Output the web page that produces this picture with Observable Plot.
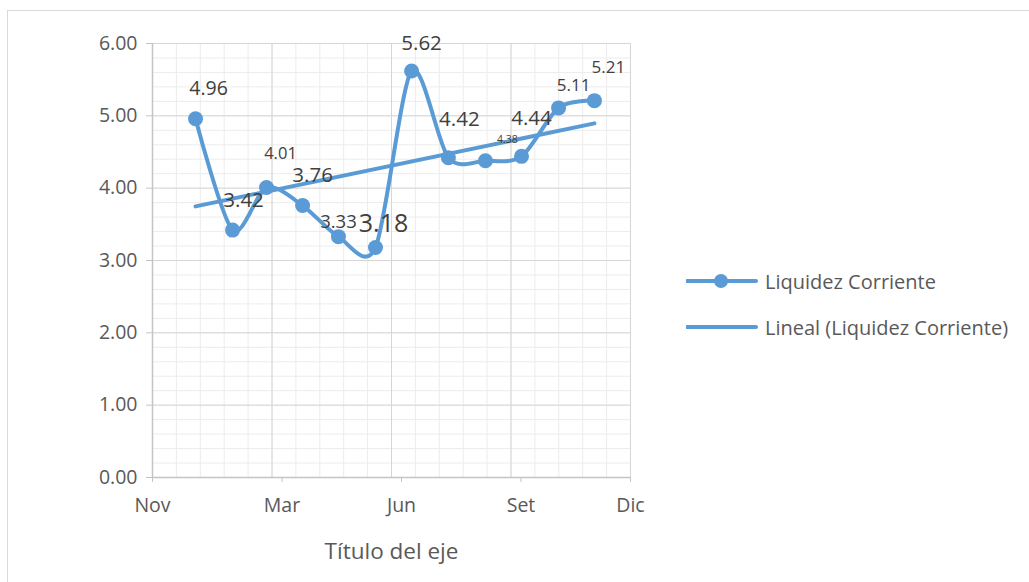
<!DOCTYPE html>
<html>
<head>
<meta charset="utf-8">
<script src="https://cdn.jsdelivr.net/npm/d3@7"></script>
<script src="https://cdn.jsdelivr.net/npm/@observablehq/plot@0.6"></script>
<style>
  html, body { margin: 0; padding: 0; background: #fff; }
  #wrap { position: relative; width: 1029px; height: 582px; overflow: hidden; font-family: "Open Sans", sans-serif; }
  #border { position: absolute; left: 7px; top: 10px; width: 1200px; height: 800px; border: 1.5px solid #d9d9d9; box-sizing: border-box; pointer-events: none; }
  #legend { position: absolute; left: 686px; top: 266px; color: #595959; font-size: 20px; }
  .row { display: flex; align-items: center; height: 30px; margin-bottom: 16px; }
  .row svg { margin-right: 7px; }
</style>
</head>
<body>
<div id="wrap">
  <div id="chart"></div>
  <div id="border"></div>
  <div id="legend"></div>
</div>
<script>
// ---- data ----
const seriesName = "Liquidez Corriente";
const trendName = "Lineal (Liquidez Corriente)";
const xPos = [1.8, 3.35, 4.77, 6.28, 7.78, 9.33, 10.84, 12.38, 13.93, 15.44, 16.99, 18.49];
const liquidez = [4.96, 3.42, 4.01, 3.76, 3.33, 3.18, 5.62, 4.42, 4.38, 4.44, 5.11, 5.21];
const xTickValues = [0, 5, 10, 15, 20];
const xTickLabels = ["Nov", "Mar", "Jun", "Set", "Dic"];
const yTickValues = [0, 1, 2, 3, 4, 5, 6];
const xAxisTitle = "Título del eje";

// ---- label styling (offsets in px, font sizes) ----
const labelStyle = [
  {dx: 13, dy: -24, size: 19.5},
  {dx: 11, dy: -23, size: 20.5},
  {dx: 14, dy: -28, size: 16.5},
  {dx: 10, dy: -24, size: 20.5},
  {dx: 0,  dy: -9,  size: 18.5},
  {dx: 8,  dy: -15, size: 25},
  {dx: 10, dy: -21, size: 20.5},
  {dx: 11, dy: -32, size: 20.5},
  {dx: 22, dy: -18, size: 10.5},
  {dx: 10, dy: -31, size: 20.5},
  {dx: 15, dy: -17, size: 17},
  {dx: 14, dy: -28, size: 17}
];

const data = liquidez.map((v, i) => ({x: xPos[i], y: v}));
const blue = "#5B9BD5";
const labelFor = v => xTickLabels[xTickValues.indexOf(v)];

const labelMarks = data.map((d, i) => Plot.text([d], {
  x: "x", y: "y", text: d => d.y.toFixed(2),
  dx: labelStyle[i].dx, dy: labelStyle[i].dy, fontSize: labelStyle[i].size,
  lineAnchor: "bottom", textAnchor: "middle", fill: "#404040"
}));

const chart = Plot.plot({
  width: 1029, height: 582,
  marginLeft: 152, marginRight: 399, marginTop: 43, marginBottom: 105,
  x: {domain: [0, 20]},
  y: {domain: [0, 6]},
  style: {fontFamily: "'Open Sans', sans-serif", background: "transparent", color: "#595959"},
  marks: [
    Plot.gridX(d3.range(0, 21, 1), {stroke: "#ececec", strokeOpacity: 1}),
    Plot.gridY(d3.range(0, 31).map(i => i / 5), {stroke: "#ececec", strokeOpacity: 1}),
    Plot.gridX(xTickValues, {stroke: "#d6d6d6", strokeOpacity: 1}),
    Plot.gridY(yTickValues, {stroke: "#d6d6d6", strokeOpacity: 1}),
    Plot.ruleY([0], {stroke: "#c4c4c4", strokeWidth: 1.5}),
    Plot.ruleX([0], {stroke: "#c4c4c4", strokeWidth: 1.5}),
    Plot.axisY({ticks: yTickValues, tickFormat: d => d.toFixed(2), tickSize: 6, tickPadding: 9,
      fontSize: 19.5, stroke: "#c4c4c4", fill: "#595959", label: null}),
    Plot.axisX({ticks: [0, 20], tickFormat: labelFor, tickSize: 5, tickPadding: 16,
      fontSize: 19.5, stroke: "#c4c4c4", fill: "#595959", label: null}),
    Plot.axisX({ticks: [5, 10, 15], tickFormat: labelFor, tickSize: 5, tickPadding: 16, dx: 10,
      fontSize: 19.5, stroke: "#c4c4c4", fill: "#595959", label: null}),
    Plot.text([xAxisTitle], {frameAnchor: "bottom", text: d => d, dy: 81, lineAnchor: "bottom",
      fontSize: 22.5, fill: "#595959"}),
    Plot.line(data, {x: "x", y: "y", curve: "cardinal", tension: 0.15, stroke: blue, strokeWidth: 4}),
    Plot.dot(data, {x: "x", y: "y", r: 7.5, fill: blue}),
    Plot.linearRegressionY(data, {x: "x", y: "y", stroke: blue, strokeWidth: 4, ci: 0}),
    ...labelMarks
  ]
});
document.getElementById("chart").appendChild(chart);

// ---- legend ----
const legend = document.getElementById("legend");
[[seriesName, true], [trendName, false]].forEach(([name, marker]) => {
  const row = document.createElement("div");
  row.className = "row";
  row.innerHTML = `<svg width="72" height="20"><line x1="1" y1="10" x2="70" y2="10" stroke="${blue}" stroke-width="4" stroke-linecap="round"/>${marker ? `<circle cx="35" cy="10" r="7" fill="${blue}"/>` : ""}</svg><span>${name}</span>`;
  legend.appendChild(row);
});
</script>
</body>
</html>
